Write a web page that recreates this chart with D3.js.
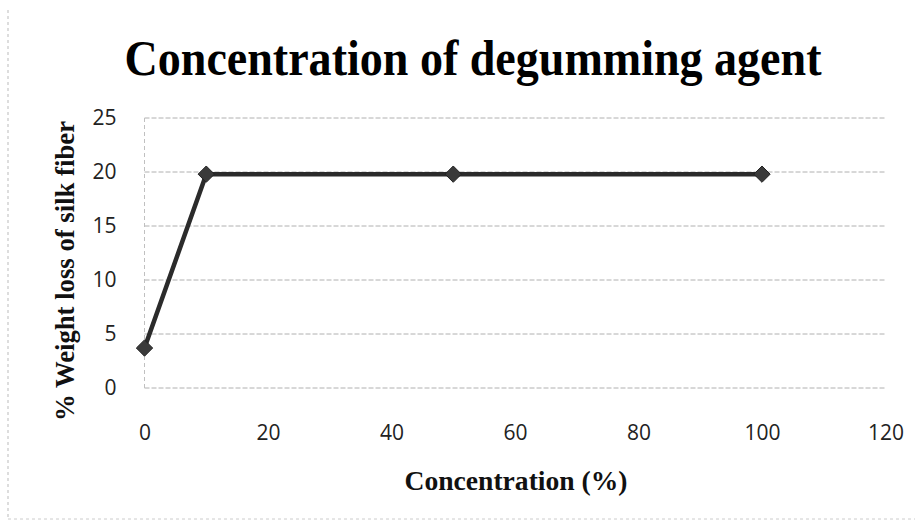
<!DOCTYPE html>
<html><head><meta charset="utf-8">
<script src="https://cdn.jsdelivr.net/npm/d3@7/dist/d3.min.js"></script>
<style>body{margin:0;background:#fff}</style>
</head><body>
<svg id="c" width="923" height="524"></svg>
<script>
const concentration = [0, 10, 50, 100];
const weightLoss = [3.7, 19.8, 19.8, 19.8];
const xTicks = [0, 20, 40, 60, 80, 100, 120];
const yTicks = [0, 5, 10, 15, 20, 25];
const titleText = "Concentration of degumming agent";
const xLabel = "Concentration (%)";
const yLabel = "% Weight loss of silk fiber";

const svg = d3.select("#c");
const x = d3.scaleLinear().domain([0, 120]).range([144.5, 885.5]);
const y = d3.scaleLinear().domain([0, 25]).range([388, 118]);

// faint frame
svg.append("line").attr("x1",8).attr("x2",8).attr("y1",10).attr("y2",518)
  .attr("stroke","#bbb").attr("stroke-dasharray","3,3");
svg.append("line").attr("x1",8).attr("x2",915).attr("y1",519).attr("y2",519)
  .attr("stroke","#ccc").attr("stroke-dasharray","3,3");

// gridlines
svg.append("g").selectAll("line").data(yTicks).join("line")
  .attr("x1", x(0)).attr("x2", x(120))
  .attr("y1", d => y(d)).attr("y2", d => y(d))
  .attr("stroke", "#b0b0b0").attr("stroke-width", 1).attr("stroke-dasharray", "5,2");
// left axis line
svg.append("line").attr("x1", x(0)).attr("x2", x(0)).attr("y1", y(25)).attr("y2", y(0))
  .attr("stroke", "#c0c0c0").attr("stroke-dasharray", "4,3");

// y axis
const yAxis = d3.axisLeft(y).tickValues(yTicks).tickSize(0).tickPadding(28);
const gy = svg.append("g").attr("transform", `translate(${x(0)},0)`).call(yAxis);
gy.select(".domain").remove();
gy.selectAll("text").attr("font-family", "'Open Sans', sans-serif").attr("font-size", 21).attr("fill", "#222");

// x axis
const xAxis = d3.axisBottom(x).tickValues(xTicks).tickSize(0).tickPadding(37);
const gx = svg.append("g").attr("transform", `translate(0,${y(0)})`).call(xAxis);
gx.select(".domain").remove();
gx.selectAll("text").attr("font-family", "'Open Sans', sans-serif").attr("font-size", 21).attr("fill", "#222");

// line
const pts = concentration.map((c, i) => [c, weightLoss[i]]);
svg.append("path").datum(pts)
  .attr("d", d3.line().x(d => x(d[0])).y(d => y(d[1])))
  .attr("fill", "none").attr("stroke", "#2b2b2b").attr("stroke-width", 4.5);

svg.append("g").selectAll("path").data(pts).join("path")
  .attr("transform", d => `translate(${x(d[0])},${y(d[1])})`)
  .attr("d", d3.symbol(d3.symbolDiamond2, 170)())
  .attr("fill", "#3a3a3a").attr("stroke", "#222").attr("stroke-width", 1);

// title
svg.append("text").attr("x", 473).attr("y", 75).attr("text-anchor", "middle")
  .attr("font-family", "'Liberation Serif', 'Times New Roman', serif")
  .attr("font-weight", "bold").attr("font-size", 50)
  .attr("textLength", 697).attr("lengthAdjust", "spacingAndGlyphs")
  .attr("fill", "#000").text(titleText);

// x label
svg.append("text").attr("x", 516).attr("y", 490).attr("text-anchor", "middle")
  .attr("font-family", "'Liberation Serif', 'Times New Roman', serif")
  .attr("font-weight", "bold").attr("font-size", 28)
  .attr("textLength", 223).attr("lengthAdjust", "spacingAndGlyphs")
  .attr("fill", "#111").text(xLabel);

// y label
svg.append("text").attr("transform", "translate(74,271) rotate(-90)")
  .attr("text-anchor", "middle")
  .attr("font-family", "'Liberation Serif', 'Times New Roman', serif")
  .attr("font-weight", "bold").attr("font-size", 28)
  .attr("textLength", 300).attr("lengthAdjust", "spacingAndGlyphs")
  .attr("fill", "#111").text(yLabel);
</script>
</body></html>
